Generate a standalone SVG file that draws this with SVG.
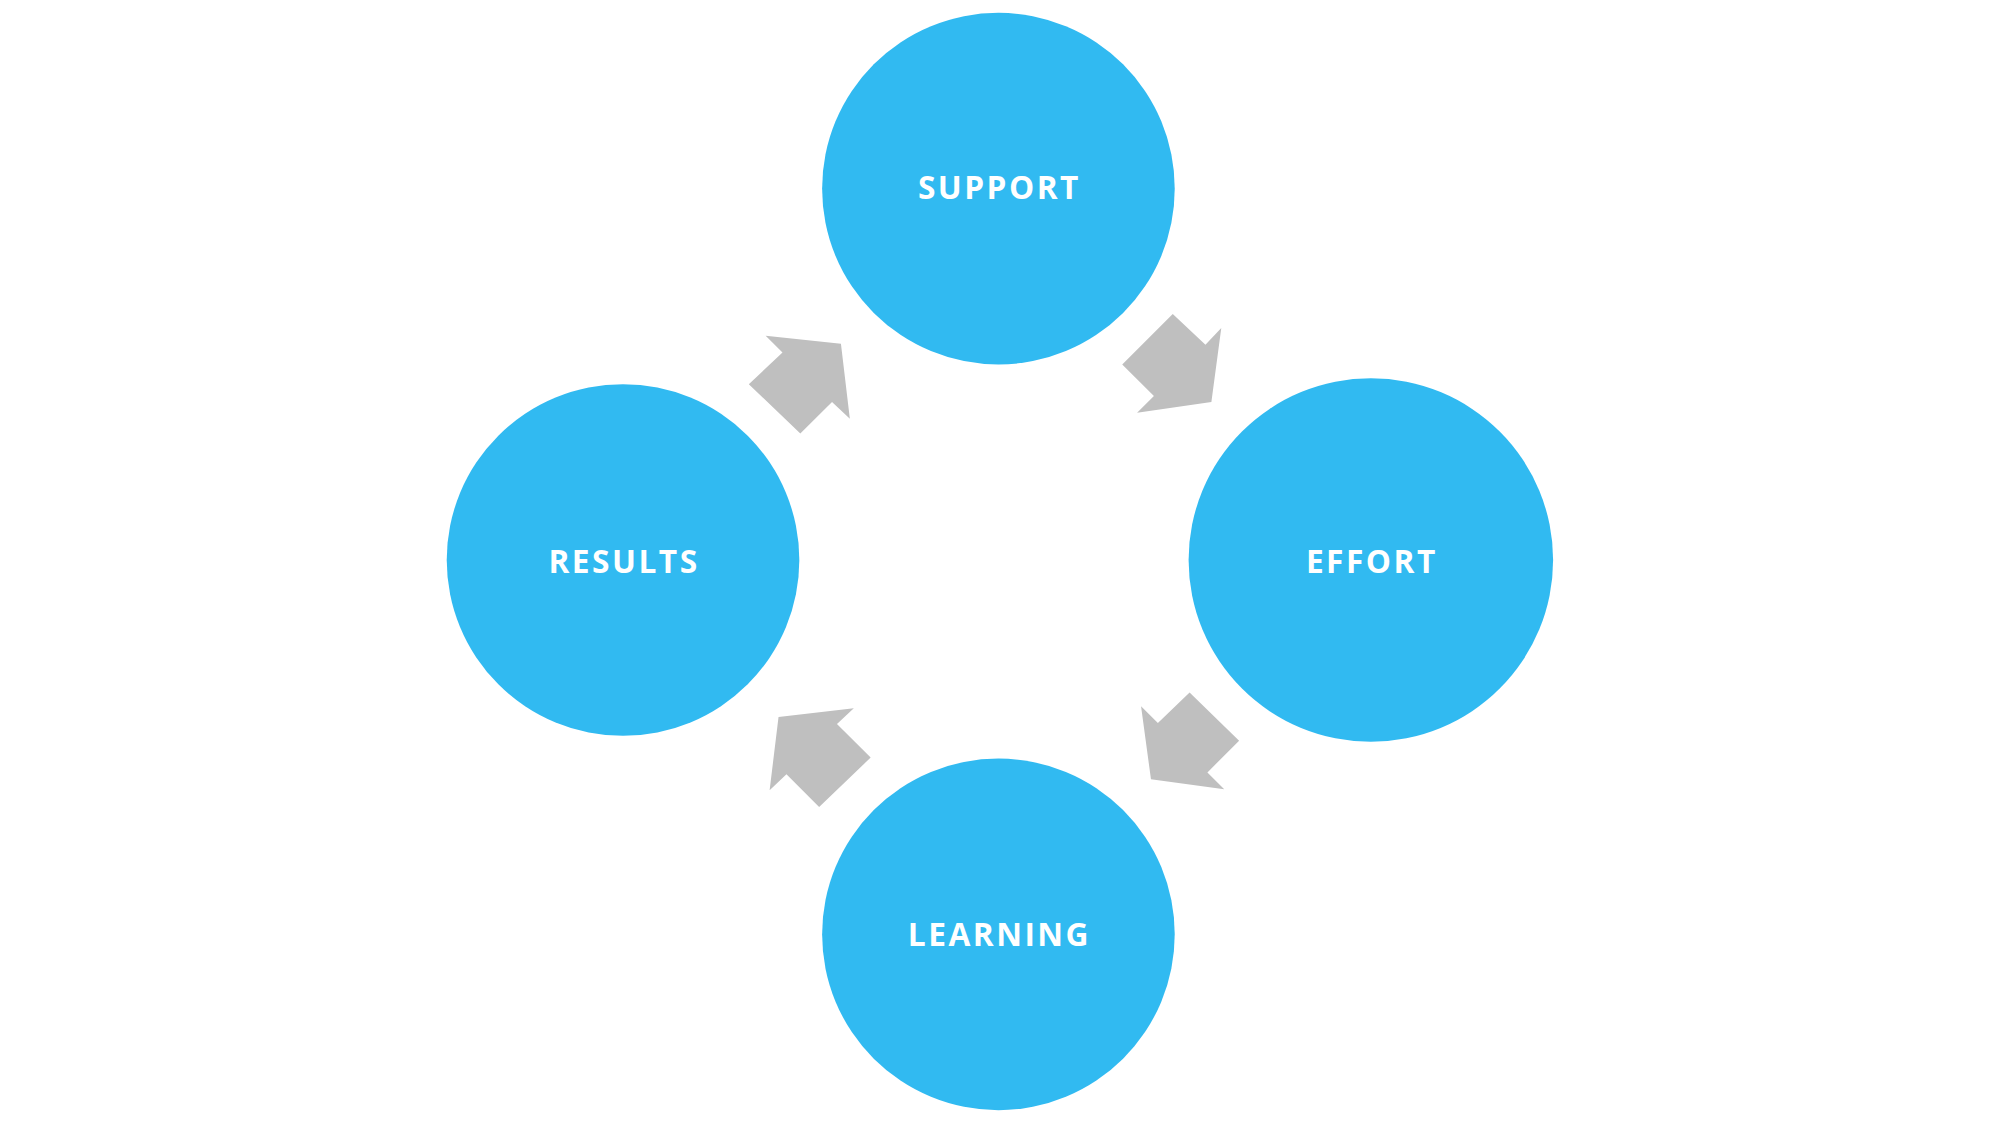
<svg xmlns="http://www.w3.org/2000/svg" width="2000" height="1125" viewBox="0 0 2000 1125">
<style>
.c{fill:#31baf1}
.t{fill:#fff;font-family:"Open Sans","Liberation Sans",sans-serif;font-weight:bold;font-size:32px;letter-spacing:2.5px;text-anchor:middle;dominant-baseline:central}
.a{fill:#bfbfbf}
</style>
<rect width="2000" height="1125" fill="#fff"/>
<g transform="scale(0.9905,0.9877)">
<g id="support"><circle class="c" cx="1008" cy="191" r="178"/><text class="t" x="1009" y="189">SUPPORT</text></g>
<g id="effort"><circle class="c" cx="1384" cy="567" r="184"/><text class="t" x="1385" y="567">EFFORT</text></g>
<g id="learning"><circle class="c" cx="1008" cy="946" r="178"/><text class="t" x="1009" y="945">LEARNING</text></g>
<g id="results"><circle class="c" cx="629" cy="567" r="178"/><text class="t" x="630" y="567">RESULTS</text></g>
<g id="connectors">
<polygon class="a" points="1184,318 1217,349 1233,332 1223,407 1148,418 1165,401 1133,369"/>
<polygon class="a" points="1201,701 1251,750 1219,782 1236,799 1162,789 1152,715 1169,732"/>
<polygon class="a" points="879,767 827,817 794,784 777,800 786,726 862,717 845,733"/>
<polygon class="a" points="756,389 790,357 773,340 849,348 858,424 840,407 808,439"/>
</g>
</g>
</svg>
